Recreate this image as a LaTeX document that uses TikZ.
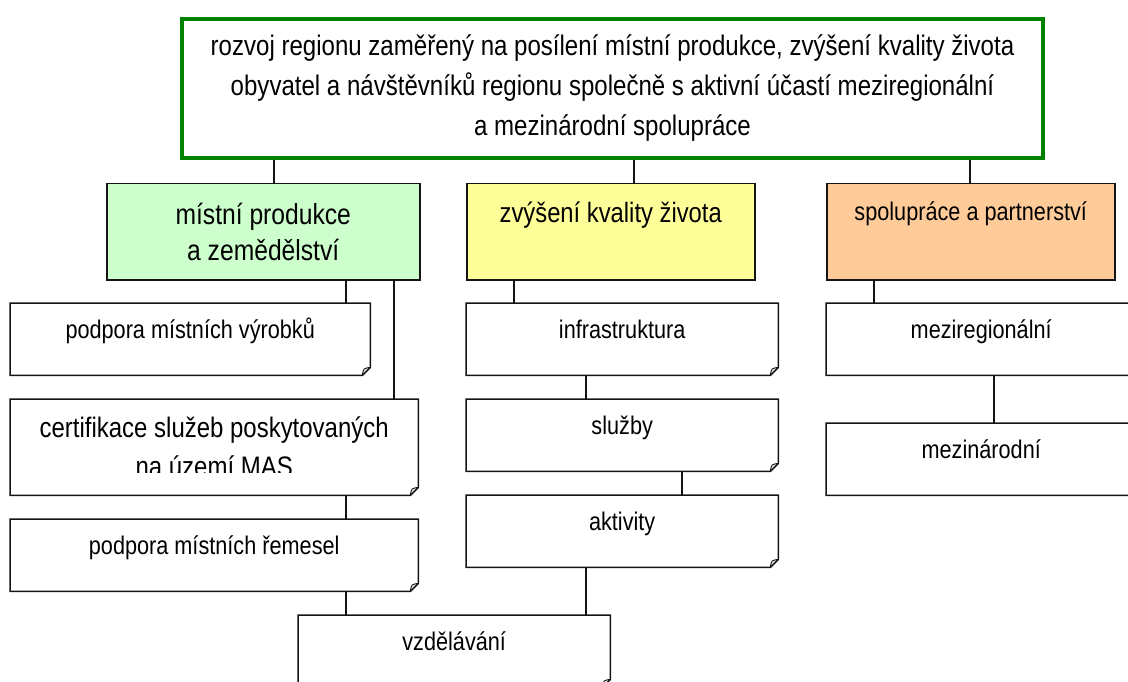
\documentclass[tikz,border=0pt]{standalone}
\usepackage{fontspec}
\setmainfont{Liberation Sans}[FakeStretch=0.85]
\definecolor{goalgreen}{RGB}{0,128,0}
\definecolor{prodgreen}{RGB}{204,255,204}
\definecolor{lifeyellow}{RGB}{255,255,153}
\definecolor{partorange}{RGB}{255,204,153}
\definecolor{edgegray}{RGB}{20,20,20}

\begin{document}
\begin{tikzpicture}[x=1pt, y=-1pt]
    \tikzstyle{cat} = [rectangle, draw=edgegray, line width=1.5pt, anchor=north west,
                       inner sep=0pt, minimum width=288pt, minimum height=96pt,
                       font=\fontsize{25.5}{36}\selectfont]
    \tikzstyle{leafbox} = [rectangle, anchor=north west, inner sep=0pt,
                           minimum width=312pt, minimum height=72pt,
                           font=\fontsize{25.5}{36}\selectfont]
    \tikzstyle{leaf} = [leafbox, text height=35pt, text depth=37pt]
    \tikzstyle{link} = [line width=1.5pt, edgegray]

    \useasboundingbox (0,0) rectangle (1128,682);
    \clip (0,0) rectangle (1128,682);

    %% Goal at the top
    \node[rectangle, draw=goalgreen, line width=4pt, anchor=north west, inner sep=0pt,
          minimum width=861pt, minimum height=139pt, align=center,
          font=\fontsize{28.3}{40}\selectfont] (goal) at (180,17)
      {rozvoj regionu zaměřený na posílení místní produkce, zvýšení kvality života\\
       obyvatel a návštěvníků regionu společně s aktivní účastí meziregionální\\
       a mezinárodní spolupráce};

    %% Three priorities
    \node[cat, fill=prodgreen, minimum width=313pt, align=center,
          font=\fontsize{29}{36}\selectfont] (prod) at (106,183)
      {místní produkce\\a zemědělství};
    \node[cat, fill=lifeyellow, text height=39pt, text depth=57pt,
          font=\fontsize{28}{36}\selectfont] (life) at (466,183) {zvýšení kvality života};
    \node[cat, fill=partorange, text height=37pt, text depth=59pt] (part) at (826,183)
      {spolupráce a partnerství};

    %% Measures, left column
    \node[leaf, minimum width=360pt] (vyr) at (10,303) {podpora místních výrobků};
    \begin{scope}
      \clip (0,0) rectangle (1128,472);
      \node[leafbox, minimum width=408pt, minimum height=96pt, align=center,
            font=\fontsize{28.2}{39}\selectfont] (cert) at (10,399)
        {certifikace služeb poskytovaných\\na území MAS};
    \end{scope}
    \node[leaf, minimum width=408pt] (rem) at (10,519) {podpora místních řemesel};
    \node[leaf] (vzd) at (298,615) {vzdělávání};

    %% Measures, middle column
    \node[leaf] (infra) at (466,303) {infrastruktura};
    \node[leaf] (sluz)  at (466,399) {služby};
    \node[leaf] (akt)   at (466,495) {aktivity};

    %% Measures, right column
    \node[leaf, minimum width=310pt] (mreg) at (826,303) {meziregionální};
    \node[leaf, minimum width=310pt] (mnar) at (826,423) {mezinárodní};

    %% Folded-corner outlines of the measures
    \foreach \n in {vyr,cert,rem,vzd,infra,sluz,akt,mreg,mnar} {
      \draw[link] (\n.north west) -- (\n.north east) -- ([yshift=8pt]\n.south east)
        -- ([xshift=-8pt]\n.south east) -- (\n.south west) -- cycle;
      \draw[link, line width=1pt] ([xshift=-8pt]\n.south east)
        .. controls ([xshift=-7pt, yshift=7pt]\n.south east) .. ([yshift=8pt]\n.south east);
    }

    %% Connectors
    \draw[link] (goal.south -| 274,0) -- (prod.north -| 274,0);
    \draw[link] (goal.south -| 634,0) -- (life.north -| 634,0);
    \draw[link] (goal.south -| 970,0) -- (part.north -| 970,0);
    \draw[link] (prod.south -| 346,0) -- (vyr.north -| 346,0);
    \draw[link] (prod.south -| 394,0) -- (cert.north -| 394,0);
    \draw[link] (cert.south -| 346,0) -- (rem.north -| 346,0);
    \draw[link] (rem.south -| 346,0)  -- (vzd.north -| 346,0);
    \draw[link] (life.south -| 514,0) -- (infra.north -| 514,0);
    \draw[link] (infra.south -| 586,0) -- (sluz.north -| 586,0);
    \draw[link] (sluz.south -| 682,0) -- (akt.north -| 682,0);
    \draw[link] (akt.south -| 586,0)  -- (vzd.north -| 586,0);
    \draw[link] (part.south -| 874,0) -- (mreg.north -| 874,0);
    \draw[link] (mreg.south -| 994,0) -- (mnar.north -| 994,0);
\end{tikzpicture}
\end{document}
